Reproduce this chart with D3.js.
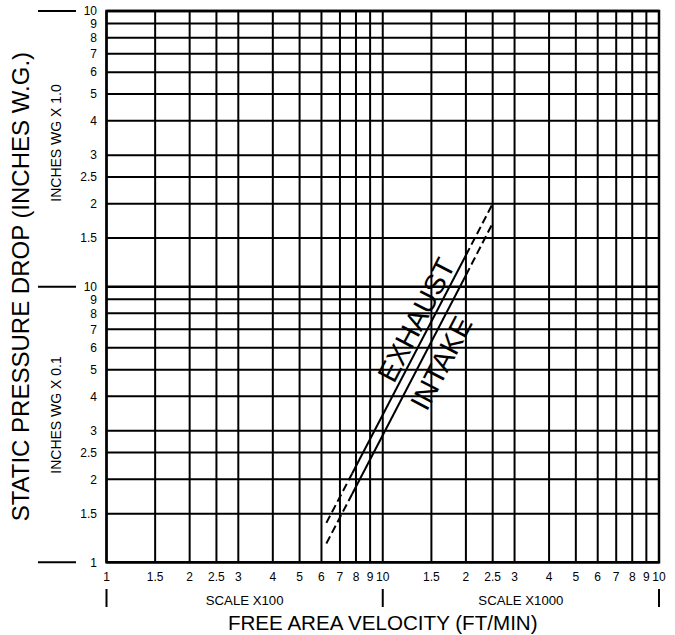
<!DOCTYPE html>
<html><head><meta charset="utf-8">
<script src="https://cdn.jsdelivr.net/npm/d3@7"></script>
<style>body{margin:0;background:#fff}svg{display:block;font-family:"Liberation Sans",Arial,sans-serif}</style>
</head><body><svg id="c" width="675" height="635"></svg>
<script>
// ---- data ----
const gridMultipliers = [1, 1.5, 2, 2.5, 3, 4, 5, 6, 7, 8, 9];
const xDecades = [100, 1000];
const yDecades = [0.01, 0.1];
const xTickLabels = ["1","1.5","2","2.5","3","4","5","6","7","8","9","10","1.5","2","2.5","3","4","5","6","7","8","9","10"];
const yTickLabels = ["1","1.5","2","2.5","3","4","5","6","7","8","9","10","1.5","2","2.5","3","4","5","6","7","8","9","10"];
const velocity = [625, 775, 2000, 2500];
const exhaust  = [0.0139, 0.0210, 0.130, 0.200];
const intake   = [0.0117, 0.0177, 0.110, 0.170];
const segmentDashed = [true, false, true];
const labels = [{text:"EXHAUST", v:1319, p:0.0758}, {text:"INTAKE", v:1625, p:0.0529}];

const svg = d3.select("#c");
const L = 106.5, R = 659, T = 11, B = 562.3;
const x = d3.scaleLog().domain([100, 10000]).range([L, R]);
const y = d3.scaleLog().domain([0.01, 1]).range([B, T]);

const xTicks = xDecades.flatMap(d => gridMultipliers.map(m => d*m)).concat([10000]);
const yTicks = yDecades.flatMap(d => gridMultipliers.map(m => d*m)).concat([1]);

// grid
const g = svg.append("g");
g.selectAll("line.v").data(xTicks).join("line")
  .attr("x1", d => x(d)).attr("x2", d => x(d)).attr("y1", T).attr("y2", B)
  .attr("stroke", "#000").attr("stroke-width", 2);
g.selectAll("line.h").data(yTicks).join("line")
  .attr("y1", d => y(d)).attr("y2", d => y(d)).attr("x1", L).attr("x2", R)
  .attr("stroke", "#000").attr("stroke-width", (d,i) => (i===0||i===11||i===22) ? 2.5 : 2);
g.append("rect").attr("x", L).attr("y", T).attr("width", R-L).attr("height", B-T)
  .attr("fill", "none").attr("stroke", "#000").attr("stroke-width", 2.5);

// y tick labels
svg.append("g").selectAll("text").data(yTicks).join("text")
  .attr("x", 97).attr("y", d => y(d)).attr("dy", "0.36em")
  .attr("text-anchor", "end").attr("font-size", 12)
  .text((d,i) => yTickLabels[i]);
// long ticks at decades
svg.append("g").selectAll("line").data([0.01, 0.1, 1]).join("line")
  .attr("x1", 38).attr("x2", 76).attr("y1", d => y(d)).attr("y2", d => y(d))
  .attr("stroke", "#000").attr("stroke-width", 2);

// x tick labels
svg.append("g").selectAll("text").data(xTicks).join("text")
  .attr("x", d => x(d)).attr("y", 577).attr("dy", "0.36em")
  .attr("text-anchor", "middle").attr("font-size", 12)
  .text((d,i) => xTickLabels[i]);
svg.append("g").selectAll("line").data([100, 1000, 10000]).join("line")
  .attr("x1", d => x(d)).attr("x2", d => x(d)).attr("y1", 589).attr("y2", 607)
  .attr("stroke", "#000").attr("stroke-width", 2);

svg.append("text").attr("x", (x(100)+x(1000))/2).attr("y", 600).attr("dy","0.36em")
  .attr("text-anchor","middle").attr("font-size", 13.2).text("SCALE X100");
svg.append("text").attr("x", (x(1000)+x(10000))/2).attr("y", 600).attr("dy","0.36em")
  .attr("text-anchor","middle").attr("font-size", 13.2).text("SCALE X1000");
svg.append("text").attr("x", x(1000)).attr("y", 623).attr("dy","0.36em")
  .attr("text-anchor","middle").attr("font-size", 20.6).text("FREE AREA VELOCITY (FT/MIN)");

// y titles
svg.append("text").attr("transform", `translate(20,${y(0.1)}) rotate(-90)`).attr("dy","0.36em")
  .attr("text-anchor","middle").attr("font-size", 24).text("STATIC PRESSURE DROP (INCHES W.G.)");
svg.append("text").attr("transform", `translate(56,143) rotate(-90)`).attr("dy","0.36em")
  .attr("text-anchor","middle").attr("font-size", 14).text("INCHES WG X 1.0");
svg.append("text").attr("transform", `translate(56,415) rotate(-90)`).attr("dy","0.36em")
  .attr("text-anchor","middle").attr("font-size", 14).text("INCHES WG X 0.1");

// curves
[exhaust, intake].forEach(series => {
  for (let i = 0; i < velocity.length-1; i++) {
    svg.append("line")
      .attr("x1", x(velocity[i])).attr("y1", y(series[i]))
      .attr("x2", x(velocity[i+1])).attr("y2", y(series[i+1]))
      .attr("stroke", "#000").attr("stroke-width", 2)
      .attr("stroke-dasharray", segmentDashed[i] ? "8,4" : null);
  }
});

// labels rotated along line
const ang = Math.atan2(y(exhaust[3]) - y(exhaust[0]), x(velocity[3]) - x(velocity[0])) * 180 / Math.PI;
labels.forEach(l => {
  svg.append("text").attr("transform", `translate(${x(l.v)},${y(l.p)}) rotate(${ang})`)
    .attr("text-anchor","middle").attr("dy", "0.36em").attr("font-size", 28.5).text(l.text);
});
</script></body></html>
